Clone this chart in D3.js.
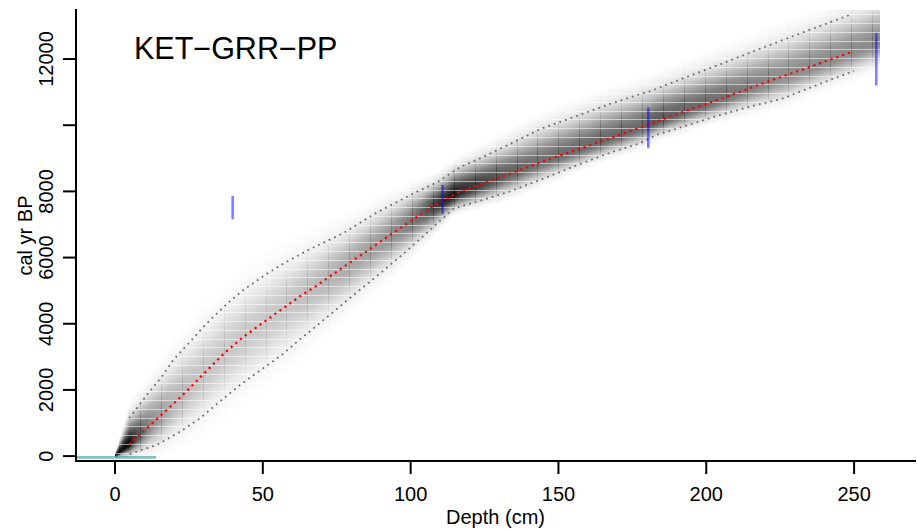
<!DOCTYPE html>
<html><head><meta charset="utf-8">
<script src="https://cdn.jsdelivr.net/npm/d3@7"></script>
<style>body{margin:0;background:#fff} svg{display:block} text{font-family:"Liberation Sans",Arial,Helvetica,sans-serif;fill:#000}</style>
</head><body><svg id="c" width="917" height="531"></svg>
<script>
// ---------------- data ----------------
const title = "KET\u2212GRR\u2212PP";
const xLabel = "Depth (cm)";
const yLabel = "cal yr BP";
const xTicks = [0, 50, 100, 150, 200, 250];
const xTickLabels = ["0", "50", "100", "150", "200", "250"];
const yTicks = [0, 2000, 4000, 6000, 8000, 10000, 12000];
const yTickLabels = ["0", "2000", "4000", "6000", "8000", "", "12000"];

// weighted mean age-depth curve (red dotted)
const meanDepth = [4.8, 15.8, 23.5, 29.4, 36.9, 43.4, 50.4, 57.2, 62.4, 67.7, 78.2, 86.9, 95.7, 102.8, 106.2, 110.0, 115.6, 121.6, 133.4, 145.5, 157.3, 169.4, 179.5, 193.4, 207.4, 219.3, 233.3, 243.3, 249.3];
const meanAge   = [357, 1252, 1899, 2431, 3108, 3601, 4054, 4487, 4819, 5122, 5769, 6301, 6845, 7268, 7480, 7661, 7946, 8145, 8529, 8931, 9294, 9669, 9989, 10443, 10878, 11271, 11704, 12027, 12218];

// 95% upper (older) bound (grey dotted)
const upperDepth = [4.8, 8.5, 11.2, 15.6, 19.7, 24.6, 30.4, 37.8, 43.7, 51.3, 57.5, 65.9, 77.2, 88.5, 101.5, 108.8, 116.7, 124.1, 133.7, 143.8, 155.1, 166.3, 177.6, 181.4, 192.3, 203.6, 214.9, 226.1, 237.4, 248.6];
const upperAge   = [1143, 1575, 1899, 2370, 2906, 3380, 3955, 4599, 5043, 5506, 5847, 6252, 6736, 7359, 7964, 8266, 8732, 9022, 9436, 9881, 10244, 10606, 10939, 11038, 11422, 11803, 12197, 12580, 12964, 13336];

// 95% lower (younger) bound (grey dotted)
const lowerDepth = [5.0, 6.2, 14.1, 22.0, 28.8, 35.7, 42.3, 49.8, 56.4, 62.3, 69.3, 79.5, 89.6, 97.5, 104.3, 108.8, 114.5, 121.3, 132.5, 143.8, 155.1, 166.3, 177.6, 183.2, 192.3, 203.6, 214.9, 226.2, 237.5, 250.0];
const lowerAge   = [60, 103, 335, 738, 1143, 1666, 2150, 2633, 3057, 3510, 4020, 4780, 5520, 6110, 6650, 7020, 7480, 7661, 7964, 8348, 8750, 9134, 9457, 9708, 9959, 10283, 10564, 10818, 11220, 11643];

// surface of the model (top of the grey density)
const surfaceDepth = [0];
const surfaceLow = [-40];
const surfaceMean = [10];
const surfaceHigh = [70];

// calibrated dates (blue)
const dateDepth = [39.8, 110.8, 180.4, 257.5];
const dateMin   = [7160, 7320, 9306, 11199];
const dateMax   = [7864, 8197, 10534, 12783];

// sampling-year line (teal)
const surfLineAge = -40;
const surfLineDepthEnd = 13.9;

// model sections (darker vertical seams) and age-bin seams
const sectionStart = 1.4, sectionThick = 7.075, modelMaxDepth = 258.8;
const binPhase = 3813, binWidth = 265;

// ---------------- layout ----------------
const svg = d3.select("#c");
const L = 76, R = 915, T = 10, B = 461;
const x = d3.scaleLinear().domain([-13.19, 270.6]).range([L, R]);
const y = d3.scaleLinear().domain([-148, 13482]).range([B, T]);

const defs = svg.append("defs");
defs.append("clipPath").attr("id", "plotclip").append("rect")
  .attr("x", L).attr("y", T).attr("width", R - L).attr("height", B - T);

const plot = svg.append("g").attr("clip-path", "url(#plotclip)");

// interpolators for the density band
const loS = d3.scaleLinear().domain(surfaceDepth.concat(lowerDepth)).range(surfaceLow.concat(lowerAge));
const muS = d3.scaleLinear().domain(surfaceDepth.concat(meanDepth)).range(surfaceMean.concat(meanAge));
const hiS = d3.scaleLinear().domain(surfaceDepth.concat(upperDepth)).range(surfaceHigh.concat(upperAge));

function makeGrad(id, d, gain) {
  const lo = loS(d), mu = muS(d), hi = hiS(d);
  const w = Math.max(hi - lo, 60);
  const peak = Math.min(0.95, 0.75 * Math.pow(1270 / w, 1.6)) * gain;
  const sdHi = Math.max(hi - mu, 15) / 1.96, sdLo = Math.max(mu - lo, 15) / 1.96;
  const top = mu + 2.9 * sdHi, bot = mu - 2.9 * sdLo;
  const g = defs.append("linearGradient").attr("id", id)
    .attr("x1", 0).attr("y1", 0).attr("x2", 0).attr("y2", 1);
  const n = 28;
  for (let k = 0; k <= n; k++) {
    const t = top + (bot - top) * k / n;
    const z = t > mu ? (t - mu) / sdHi : (mu - t) / sdLo;
    const op = Math.min(1, peak * Math.exp(-0.5 * Math.pow(z / 1.12, 2.1)));
    g.append("stop").attr("offset", k / n).attr("stop-color", "#000").attr("stop-opacity", op.toFixed(4));
  }
  return {top, bot};
}

const band = plot.append("g").attr("shape-rendering", "crispEdges");
const px0 = Math.round(x(0)), px1 = Math.round(x(modelMaxDepth));
d3.range(px0, px1).forEach((px, i) => {
  const d = x.invert(px + 0.5);
  const {top, bot} = makeGrad("g" + i, d, 1);
  band.append("rect")
    .attr("x", px).attr("width", 1)
    .attr("y", y(top)).attr("height", y(bot) - y(top))
    .attr("fill", "url(#g" + i + ")");
});
// section seams
d3.range(sectionStart, modelMaxDepth, sectionThick).forEach((d, i) => {
  const {top, bot} = makeGrad("s" + i, d, 0.5);
  band.append("rect")
    .attr("x", Math.round(x(d))).attr("width", 1)
    .attr("y", y(top)).attr("height", y(bot) - y(top))
    .attr("fill", "url(#s" + i + ")");
});
// light age-bin seams
const seams = plot.append("g").attr("shape-rendering", "crispEdges");
d3.range(binPhase - binWidth * 15, 13500, binWidth).forEach(a => {
  const yy = Math.round(y(a)) + 0.5;
  seams.append("line").attr("x1", x(0)).attr("x2", x(modelMaxDepth))
    .attr("y1", yy).attr("y2", yy)
    .attr("stroke", "#fff").attr("stroke-opacity", 0.55).attr("stroke-width", 1);
});

// teal surface line
plot.append("line")
  .attr("x1", L).attr("x2", x(surfLineDepthEnd))
  .attr("y1", y(surfLineAge)).attr("y2", y(surfLineAge))
  .attr("stroke", "rgba(0,139,139,0.5)").attr("stroke-width", 2.7);

// dotted lines
const line = d3.line().x(p => x(p[0])).y(p => y(p[1]));
plot.append("path").datum(upperDepth.map((d, i) => [d, upperAge[i]]))
  .attr("d", line).attr("fill", "none").attr("stroke", "#6e6e6e")
  .attr("stroke-width", 1.8).attr("stroke-dasharray", "1.8,4.1");
plot.append("path").datum(lowerDepth.map((d, i) => [d, lowerAge[i]]))
  .attr("d", line).attr("fill", "none").attr("stroke", "#6e6e6e")
  .attr("stroke-width", 1.8).attr("stroke-dasharray", "1.8,4.1");
plot.append("path").datum(meanDepth.map((d, i) => [d, meanAge[i]]))
  .attr("d", line).attr("fill", "none").attr("stroke", "#ff0000")
  .attr("stroke-width", 2.2).attr("stroke-dasharray", "2.2,3.9");

// dates
dateDepth.forEach((d, i) => {
  plot.append("rect")
    .attr("x", x(d) - 1.3).attr("width", 2.6)
    .attr("y", y(dateMax[i])).attr("height", y(dateMin[i]) - y(dateMax[i]))
    .attr("fill", "rgba(0,0,255,0.5)");
});

// ---------------- axes ----------------
const ax = svg.append("g").attr("stroke", "#000").attr("stroke-width", 2);
ax.append("path").attr("fill", "none").attr("d", `M${L},${T}V${B}H${R}`).attr("stroke-linecap", "square");
xTicks.forEach(t => ax.append("line").attr("x1", x(t)).attr("x2", x(t)).attr("y1", B).attr("y2", B + 13));
yTicks.forEach(t => ax.append("line").attr("y1", y(t)).attr("y2", y(t)).attr("x1", L).attr("x2", L - 13));

const fs = 20;
xTicks.forEach((t, i) => svg.append("text").attr("x", x(t)).attr("y", 500.5)
  .attr("text-anchor", "middle").attr("font-size", fs).text(xTickLabels[i]));
yTicks.forEach((t, i) => svg.append("text")
  .attr("transform", `translate(52.7,${y(t)}) rotate(-90)`)
  .attr("text-anchor", "middle").attr("font-size", fs).text(yTickLabels[i]));

svg.append("text").attr("x", (L + R) / 2).attr("y", 524)
  .attr("text-anchor", "middle").attr("font-size", fs).text(xLabel);
svg.append("text").attr("transform", `translate(31.5,${(T + B) / 2}) rotate(-90)`)
  .attr("text-anchor", "middle").attr("font-size", fs).text(yLabel);

svg.append("text").attr("x", 134).attr("y", 59.3).attr("font-size", 30.5).text(title);
</script></body></html>
